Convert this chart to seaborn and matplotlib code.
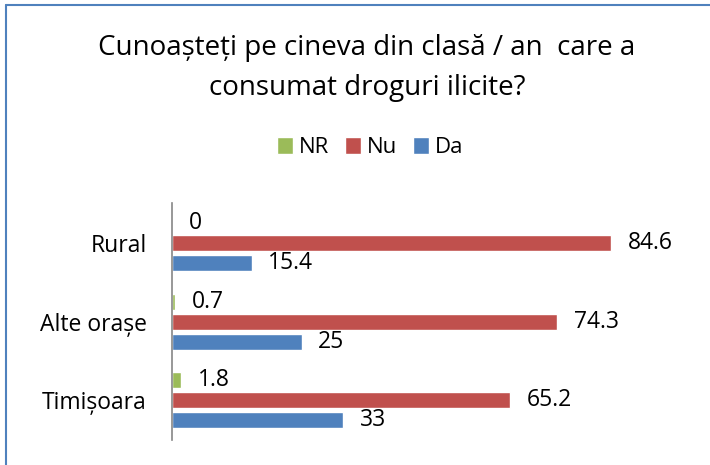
import pandas as pd
import matplotlib.pyplot as plt
import seaborn as sns

regions = ['Rural', 'Alte orașe', 'Timișoara']
answers = ['NR', 'Nu', 'Da']
nr_vals = [0, 0.7, 1.8]
nu_vals = [84.6, 74.3, 65.2]
da_vals = [15.4, 25, 33]
colors = ['#9BBB59', '#C0504D', '#4F81BD']

df = pd.DataFrame({
    'Regiune': regions * 3,
    'Raspuns': ['NR'] * 3 + ['Nu'] * 3 + ['Da'] * 3,
    'Procent': nr_vals + nu_vals + da_vals,
})

sns.set_style('white')
plt.rcParams['font.family'] = ['Open Sans', 'DejaVu Sans']
plt.rcParams['text.color'] = 'black'
plt.rcParams['ytick.color'] = 'black'

fig = plt.figure(figsize=(7.1, 4.65), dpi=100)
ax = fig.add_axes([0.242, 0.054, 0.731, 0.509])

sns.barplot(data=df, y='Regiune', x='Procent', hue='Raspuns', order=regions,
            hue_order=answers, palette=colors, orient='h', width=0.76, gap=0.2,
            saturation=1, ax=ax)

for cont in ax.containers:
    ax.bar_label(cont, fmt='%g', padding=12, fontsize=16.5, color='black')

ax.set_xlim(0, 100)
ax.set_xlabel('')
ax.set_ylabel('')
ax.set_xticks([])
ax.tick_params(axis='y', length=0, pad=18, labelsize=16.5, labelcolor='black')
for side in ['top', 'right', 'bottom']:
    ax.spines[side].set_visible(False)
ax.spines['left'].set_color('#868686')
ax.spines['left'].set_linewidth(1.2)

handles, labels = ax.get_legend_handles_labels()
ax.legend_.remove()
fig.legend(handles, labels, loc='center', bbox_to_anchor=(0.521, 0.682), ncol=3,
           frameon=False, fontsize=16, handlelength=0.75, handleheight=0.75,
           handletextpad=0.25, columnspacing=0.7)

fig.text(0.517, 0.897, 'Cunoașteți pe cineva din clasă / an  care a',
         ha='center', va='center', fontsize=20)
fig.text(0.517, 0.811, 'consumat droguri ilicite?',
         ha='center', va='center', fontsize=20)

# chart frame (left and top edges visible)
fig.add_artist(plt.Line2D([0.009, 0.009], [0, 0.99], color='#4F81BD', lw=1.5))
fig.add_artist(plt.Line2D([0.009, 1.0], [0.99, 0.99], color='#4F81BD', lw=1.5))

plt.savefig('out.png', dpi=100)
plt.close()
